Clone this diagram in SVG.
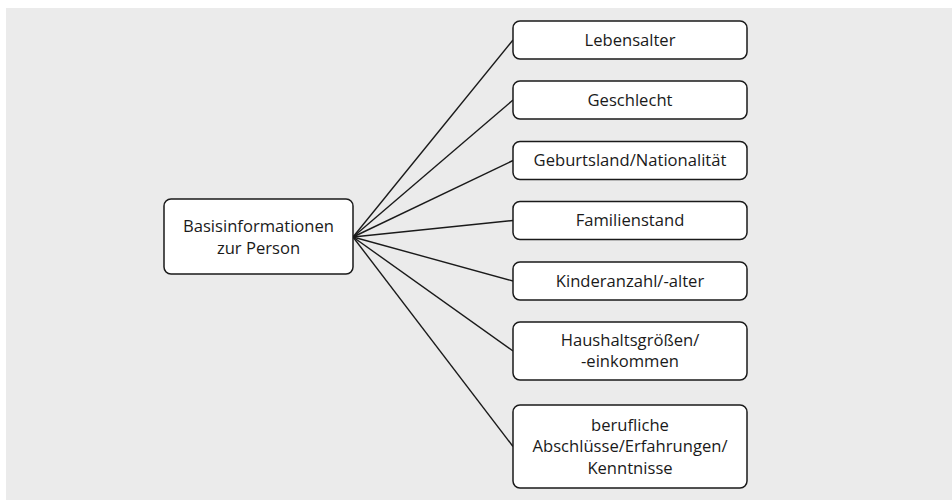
<svg xmlns="http://www.w3.org/2000/svg" width="952" height="500" viewBox="0 0 952 500">
<style>
.box{fill:#fff;stroke:#1a1a1a;stroke-width:1.5}
.t{font-family:"Open Sans","Liberation Sans",sans-serif;font-size:16.6px;fill:#1a1a1a;text-anchor:middle}
.c line{stroke:#1a1a1a;stroke-width:1.4}
</style>
<rect x="6" y="8" width="946" height="492" fill="#ebebeb"/>
<g class="c" id="connectors">
<line x1="353" y1="237" x2="513" y2="40"/>
<line x1="353" y1="237" x2="513" y2="100"/>
<line x1="353" y1="237" x2="513" y2="160.5"/>
<line x1="353" y1="237" x2="513" y2="220.5"/>
<line x1="353" y1="237" x2="513" y2="281"/>
<line x1="353" y1="237" x2="513" y2="351"/>
<line x1="353" y1="237" x2="513" y2="446.5"/>
</g>
<g id="basis"><rect class="box" x="164" y="199" width="189" height="75" rx="7"/><text class="t" x="258.5" y="232">Basisinformationen</text><text class="t" x="258.5" y="253.5">zur Person</text></g>
<g id="lebensalter"><rect class="box" x="513" y="21" width="234" height="38" rx="7"/><text class="t" x="630" y="45.5">Lebensalter</text></g>
<g id="geschlecht"><rect class="box" x="513" y="81" width="234" height="38" rx="7"/><text class="t" x="630" y="105.5">Geschlecht</text></g>
<g id="geburtsland"><rect class="box" x="513" y="141.5" width="234" height="38" rx="7"/><text class="t" x="630" y="166">Geburtsland/Nationalität</text></g>
<g id="familienstand"><rect class="box" x="513" y="201.5" width="234" height="38" rx="7"/><text class="t" x="630" y="226">Familienstand</text></g>
<g id="kinder"><rect class="box" x="513" y="262" width="234" height="38" rx="7"/><text class="t" x="630" y="286.5">Kinderanzahl/-alter</text></g>
<g id="haushalt"><rect class="box" x="513" y="322" width="234" height="58" rx="7"/><text class="t" x="630" y="345.5">Haushaltsgrößen/</text><text class="t" x="630" y="367">-einkommen</text></g>
<g id="beruf"><rect class="box" x="513" y="405" width="234" height="83" rx="7"/><text class="t" x="630" y="430.5">berufliche</text><text class="t" x="630" y="452">Abschlüsse/Erfahrungen/</text><text class="t" x="630" y="473.5">Kenntnisse</text></g>
</svg>
